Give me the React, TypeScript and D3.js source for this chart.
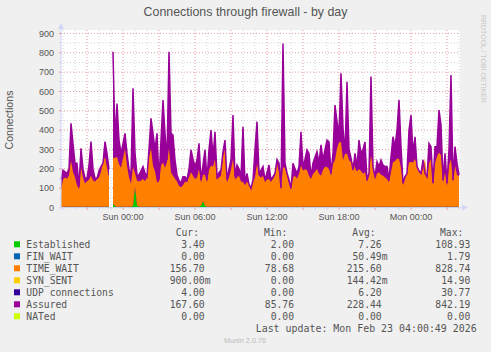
import React from "react";
import * as d3 from "d3";

// samples every 10 minutes starting Sat 21 Feb 18:50
const startTime = new Date(2026, 1, 21, 18, 50);
const endTime = new Date(2026, 1, 23, 4, 5);
const stepMinutes = 10;

const established = [
  4, 5, 5, 4, 6, 5, 4, 5, 6, 5,
  4, 5, 5, 6, 4, 5, 5, 4, 6, 5,
  5, 4, 5, 6, 5, null, 20, 8, 5, 4,
  6, 5, 5, 4, 5, 6, 8, 108, 14, 5,
  4, 5, 6, 5, 4, 5, 5, 6, 4, 5,
  5, 4, 6, 5, 5, 4, 5, 6, 5, 4,
  5, 5, 4, 6, 5, 5, 4, 5, 6, 5,
  9, 34, 10, 5, 4, 5, 6, 5, 4, 5,
  5, 6, 4, 5, 5, 4, 6, 5, 5, 4,
  5, 6, 5, 4, 5, 5, 4, 6, 5, 5,
  4, 5, 6, 5, 4, 5, 5, 6, 4, 5,
  5, 4, 5, 6, 5, 4, 5, 5, 6, 4,
  5, 5, 4, 6, 5, 5, 4, 5, 6, 5,
  4, 5, 6, 5, 4, 5, 5, 6, 5, 4,
  5, 5, 4, 6, 5, 5, 4, 5, 6, 5,
  4, 5, 5, 6, 4, 5, 5, 4, 6, 5,
  5, 4, 5, 6, 5, 4, 5, 5, 6, 4,
  5, 5, 4, 6, 5, 5, 4, 5, 6, 5,
  4, 5, 6, 5, 4, 5, 5, 6, 4, 5,
  5, 4, 5, 6, 5, 4, 5, 5, 6, 3,
];

const timeWait = [
  90, 140, 150, 145, 160, 239, 180, 150, 110, 90,
  205, 150, 120, 130, 140, 160, 136, 130, 140, 150,
  180, 230, 256, 200, 150, null, 236, 250, 256, 220,
  200, 250, 298, 212, 150, 117, 200, 70, 126, 130,
  136, 143, 130, 150, 260, 300, 212, 180, 126, 130,
  212, 229, 200, 230, 300, 177, 160, 143, 130, 108,
  100, 110, 130, 126, 150, 177, 160, 143, 150, 194,
  120, 136, 160, 125, 190, 212, 205, 246, 140, 150,
  160, 260, 298, 126, 150, 190, 246, 140, 150, 160,
  130, 126, 110, 130, 115, 90, 130, 150, 222, 160,
  150, 160, 125, 140, 143, 130, 143, 160, 222, 177,
  90, 205, 200, 160, 119, 90, 150, 160, 143, 170,
  212, 187, 194, 187, 160, 143, 170, 180, 194, 170,
  160, 190, 205, 205, 194, 160, 220, 240, 300, 334,
  334, 240, 273, 273, 240, 229, 229, 200, 180, 194,
  185, 170, 177, 125, 180, 263, 200, 140, 170, 177,
  165, 160, 150, 140, 126, 180, 229, 235, 246, 248,
  200, 110, 150, 170, 229, 230, 229, 246, 212, 180,
  170, 200, 248, 140, 222, 246, 110, 222, 260, 280,
  265, 125, 180, 105, 213, 246, 125, 212, 162, 160,
];

const assured = [
  143, 194, 185, 177, 200, 435, 330, 229, 229, 108,
  306, 200, 151, 151, 220, 341, 200, 151, 151, 190,
  212, 230, 341, 280, 200, null, 805, 349, 538, 349,
  280, 330, 384, 280, 200, 160, 616, 280, 169, 169,
  190, 212, 180, 160, 300, 461, 384, 300, 384, 143,
  349, 556, 384, 246, 805, 384, 375, 246, 169, 140,
  126, 160, 160, 143, 200, 298, 250, 212, 246, 332,
  143, 220, 298, 143, 300, 401, 263, 392, 160, 180,
  194, 289, 349, 143, 200, 246, 478, 160, 220, 200,
  160, 418, 126, 177, 120, 100, 143, 300, 444, 177,
  194, 212, 143, 180, 220, 143, 160, 177, 248, 229,
  100, 848, 229, 180, 143, 100, 229, 200, 177, 212,
  392, 210, 250, 298, 280, 160, 229, 260, 289, 229,
  324, 246, 300, 349, 340, 177, 280, 530, 446, 380,
  694, 411, 280, 650, 300, 256, 194, 280, 212, 349,
  280, 300, 339, 143, 177, 677, 212, 160, 237, 212,
  246, 220, 212, 212, 143, 263, 366, 315, 400, 556,
  315, 126, 160, 177, 401, 478, 280, 366, 212, 190,
  177, 246, 177, 160, 332, 315, 126, 315, 315, 504,
  427, 143, 280, 126, 300, 685, 143, 315, 229, 169,
];

const legendNames = ["Established", "FIN_WAIT", "TIME_WAIT", "SYN_SENT", "UDP connections", "Assured", "NATed"];
const legendColors = ["#00CC00", "#0066B3", "#FF8000", "#FFCC00", "#330099", "#990099", "#CCFF00"];
const curValues = ["3.40", "0.00", "156.70", "900.00m", "4.00", "167.60", "0.00"];
const minValues = ["2.00", "0.00", "78.68", "0.00", "0.00", "85.76", "0.00"];
const avgValues = ["7.26", "50.49m", "215.60", "144.42m", "6.20", "228.44", "0.00"];
const maxValues = ["108.93", "1.79", "828.74", "14.90", "30.77", "842.19", "0.00"];
const yTicks = [0, 100, 200, 300, 400, 500, 600, 700, 800, 900];

const SANS = "'Liberation Sans', Arial, sans-serif";
const MONO = "'DejaVu Sans Mono', monospace";
const TEXT = "#555";
const AXIS = "#CFD6F8";

export default function App() {
  const left = 61, right = 460, top = 30, bottom = 207.6;

  const x = d3.scaleTime().domain([startTime, endTime]).range([left, right]);
  const y = d3.scaleLinear().domain([0, 900]).range([bottom, 33.4]);

  const rows = established.map((e, i) => ({
    t: d3.timeMinute.offset(startTime, i * stepMinutes),
    est: e,
    tw: timeWait[i],
    as: assured[i],
  }));

  const ok = (d) => d.est != null && d.tw != null;
  const estArea = d3.area().defined(ok).x((d) => x(d.t)).y0(y(0)).y1((d) => y(d.est));
  const twArea = d3.area().defined(ok).x((d) => x(d.t)).y0((d) => y(d.est)).y1((d) => y(d.est + d.tw));
  const asArea = d3.area().defined((d) => d.as != null).x((d) => x(d.t)).y0(y(0)).y1((d) => y(d.as));
  const asLine = d3.line().defined((d) => d.as != null).x((d) => x(d.t)).y((d) => y(d.as));

  const hours = d3.timeHour.range(d3.timeHour.ceil(startTime), endTime);
  const minorY = d3.range(50, 901, 50);
  const labelTimes = d3.timeHour.every(6).range(startTime, endTime);
  const fmt = d3.timeFormat("%a %H:%M");

  const cols = [
    { head: "Cur:", hx: 175.7, edge: 204.7, vals: curValues },
    { head: "Min:", hx: 264, edge: 294, vals: minValues },
    { head: "Avg:", hx: 352.3, edge: 381.7, vals: avgValues },
    { head: "Max:", hx: 440, edge: 470.3, vals: maxValues },
  ];

  return (
    <svg width={491} height={352} style={{ position: "absolute", left: 0, top: 0 }}>
      <rect width={491} height={352} fill="#F0F0F0" />
      <rect x={left} y={top} width={right - left} height={bottom - top} fill="#fff" />

      {/* grid */}
      {minorY.map((v) => (
        <line key={"h" + v} x1={left} x2={right} y1={y(v)} y2={y(v)}
          stroke={v % 100 === 0 ? "#E69A9A" : "#D4D4D4"} strokeDasharray="1,2" />
      ))}
      {hours.map((h) => (
        <line key={"v" + h.getTime()} x1={x(h)} x2={x(h)} y1={top} y2={bottom}
          stroke={h.getHours() % 3 === 0 ? "#E69A9A" : "#D4D4D4"} strokeDasharray="1,2" />
      ))}

      {/* data */}
      <path d={asArea(rows)} fill="#990099" />
      <path d={estArea(rows)} fill="#00CC00" />
      <path d={twArea(rows)} fill="#FF8000" />
      <path d={asLine(rows)} fill="none" stroke="#990099" strokeWidth={1.5} />

      {/* axes */}
      <line x1={left} x2={left} y1={bottom + 2} y2={26} stroke={AXIS} />
      <path d={`M${left - 3},29 L${left + 3},29 L${left},23 Z`} fill={AXIS} />
      <line x1={left - 2} x2={463} y1={bottom} y2={bottom} stroke={AXIS} />
      <path d={`M462,${bottom - 3} L462,${bottom + 3} L468,${bottom} Z`} fill={AXIS} />
      {minorY.map((v) => (
        <line key={"yt" + v} x1={left - 2} x2={left} y1={y(v)} y2={y(v)}
          stroke={v % 100 === 0 ? "#E69A9A" : AXIS} />
      ))}
      {hours.map((h) => (
        <line key={"xt" + h.getTime()} x1={x(h)} x2={x(h)} y1={bottom} y2={bottom + 2}
          stroke={h.getHours() % 3 === 0 ? "#E69A9A" : AXIS} />
      ))}

      {yTicks.map((v) => (
        <text key={"yl" + v} x={54} y={y(v) + 3.2} textAnchor="end" fontFamily={SANS} fontSize={9} fill={TEXT}>{v}</text>
      ))}
      {labelTimes.map((t) => (
        <text key={"xl" + t.getTime()} x={x(t)} y={219.5} textAnchor="middle" fontFamily={SANS} fontSize={9} fill={TEXT}>{fmt(t)}</text>
      ))}

      <text x={245.5} y={16} textAnchor="middle" fontFamily={SANS} fontSize={12.4} fill={TEXT}>
        Connections through firewall - by day
      </text>
      <text transform="translate(13.2,120) rotate(-90)" textAnchor="middle" fontFamily={SANS} fontSize={10.6} fill={TEXT}>
        Connections
      </text>
      <text transform="translate(481,15) rotate(90)" fontFamily={SANS} fontSize={7} fill="#C8C8C8"
        textLength={88} lengthAdjust="spacingAndGlyphs">RRDTOOL / TOBI OETIKER</text>

      {/* legend */}
      {cols.map((c) => (
        <text key={c.head} x={c.hx} y={236.2} fontFamily={MONO} fontSize={9.7} fill={TEXT}>{c.head}</text>
      ))}
      {legendNames.map((name, i) => {
        const base = 247.8 + i * 12;
        return (
          <g key={name}>
            <rect x={14} y={base - 6.5} width={6} height={6} fill={legendColors[i]} />
            <text x={26.3} y={base} fontFamily={MONO} fontSize={9.7} fill={TEXT}>{name}</text>
            {cols.map((c) => {
              const v = c.vals[i];
              const unit = /[a-zA-Z]$/.test(v) ? v.slice(-1) : "";
              const num = unit ? v.slice(0, -1) : v;
              return (
                <g key={c.head}>
                  <text x={c.edge} y={base} textAnchor="end" fontFamily={MONO} fontSize={9.7} fill={TEXT}>{num}</text>
                  {unit && <text x={c.edge} y={base} fontFamily={MONO} fontSize={9.7} fill={TEXT}>{unit}</text>}
                </g>
              );
            })}
          </g>
        );
      })}
      <text x={255.7} y={331.6} fontFamily={MONO} fontSize={9.7} fill={TEXT} textLength={221} lengthAdjust="spacingAndGlyphs">
        Last update: Mon Feb 23 04:00:49 2026
      </text>
      <text x={245} y={343} textAnchor="middle" fontFamily={SANS} fontSize={7.3} fill="#BBBBBB">Munin 2.0.76</text>
    </svg>
  );
}
